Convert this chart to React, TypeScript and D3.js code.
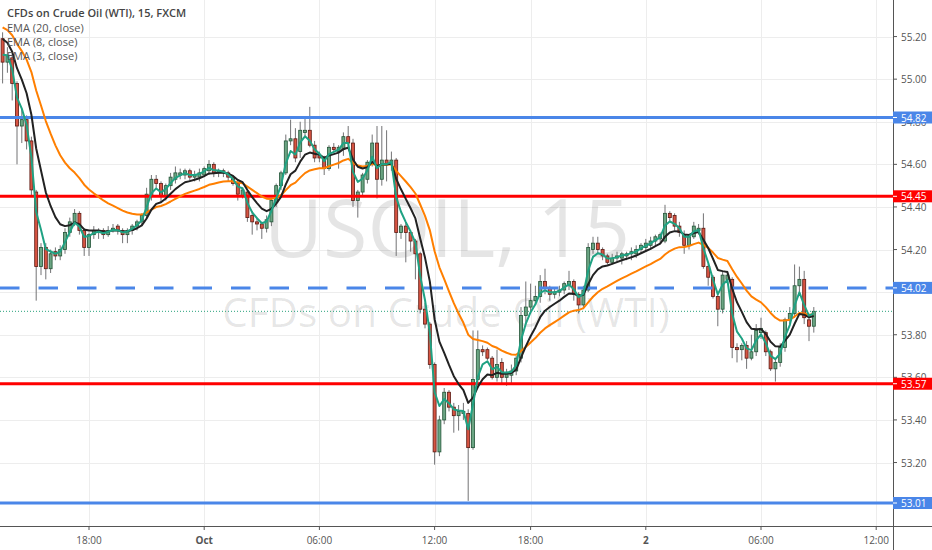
import { scaleLinear, line } from "d3";

// 15-minute bars, [open, high, low, close]
const sep30Bars: number[][] = [
  [55.19, 55.22, 54.98, 55.08], [55.08, 55.15, 55.03, 55.11], [55.10, 55.12, 54.90, 54.98],
  [54.98, 54.99, 54.60, 54.78], [54.78, 54.86, 54.70, 54.81], [54.81, 54.83, 54.67, 54.71],
  [54.71, 54.73, 54.45, 54.48], [54.47, 54.48, 53.96, 54.12], [54.12, 54.23, 54.08, 54.21],
  [54.21, 54.23, 54.06, 54.11], [54.11, 54.20, 54.09, 54.18], [54.19, 54.21, 54.15, 54.17],
  [54.17, 54.22, 54.15, 54.20], [54.20, 54.30, 54.18, 54.28], [54.28, 54.35, 54.26, 54.33],
  [54.33, 54.39, 54.31, 54.37], [54.37, 54.38, 54.27, 54.29], [54.29, 54.30, 54.17, 54.21],
  [54.21, 54.28, 54.17, 54.27], [54.27, 54.31, 54.25, 54.29], [54.28, 54.30, 54.25, 54.29],
  [54.29, 54.30, 54.25, 54.27], [54.27, 54.31, 54.26, 54.29], [54.29, 54.32, 54.28, 54.30],
  [54.31, 54.32, 54.27, 54.29], [54.29, 54.30, 54.23, 54.27], [54.27, 54.30, 54.23, 54.29],
  [54.29, 54.32, 54.27, 54.31], [54.31, 54.34, 54.29, 54.33], [54.33, 54.37, 54.31, 54.36],
  [54.36, 54.49, 54.34, 54.46], [54.45, 54.55, 54.43, 54.53], [54.53, 54.55, 54.49, 54.51],
  [54.51, 54.52, 54.42, 54.45], [54.45, 54.51, 54.43, 54.50], [54.50, 54.56, 54.48, 54.54],
  [54.53, 54.59, 54.51, 54.56], [54.55, 54.58, 54.53, 54.56], [54.55, 54.58, 54.53, 54.57],
  [54.57, 54.58, 54.52, 54.54], [54.54, 54.57, 54.52, 54.55], [54.54, 54.58, 54.52, 54.56],
];

const oct1Bars: number[][] = [
  [54.55, 54.59, 54.54, 54.58], [54.57, 54.62, 54.55, 54.60], [54.60, 54.61, 54.54, 54.56],
  [54.56, 54.58, 54.54, 54.57], [54.57, 54.58, 54.54, 54.56], [54.56, 54.57, 54.52, 54.54],
  [54.54, 54.55, 54.50, 54.51], [54.51, 54.52, 54.43, 54.46], [54.45, 54.49, 54.44, 54.48],
  [54.47, 54.48, 54.33, 54.35], [54.36, 54.38, 54.27, 54.33], [54.33, 54.35, 54.29, 54.32],
  [54.32, 54.33, 54.25, 54.30], [54.30, 54.36, 54.28, 54.34], [54.33, 54.44, 54.31, 54.43],
  [54.42, 54.51, 54.40, 54.50], [54.50, 54.57, 54.48, 54.56], [54.56, 54.74, 54.55, 54.71],
  [54.71, 54.81, 54.69, 54.72], [54.72, 54.77, 54.61, 54.63], [54.66, 54.80, 54.63, 54.76],
  [54.75, 54.82, 54.73, 54.76], [54.76, 54.87, 54.68, 54.69], [54.69, 54.71, 54.61, 54.63],
  [54.64, 54.66, 54.61, 54.63], [54.63, 54.64, 54.55, 54.58], [54.58, 54.69, 54.57, 54.68],
  [54.68, 54.70, 54.65, 54.67], [54.66, 54.69, 54.58, 54.68], [54.67, 54.75, 54.64, 54.73],
  [54.73, 54.78, 54.68, 54.70], [54.70, 54.72, 54.40, 54.43], [54.43, 54.48, 54.35, 54.47],
  [54.47, 54.56, 54.45, 54.55], [54.53, 54.62, 54.51, 54.61], [54.61, 54.74, 54.59, 54.70],
  [54.70, 54.78, 54.44, 54.53], [54.53, 54.78, 54.50, 54.62], [54.62, 54.76, 54.52, 54.60],
  [54.60, 54.66, 54.57, 54.62], [54.62, 54.63, 54.17, 54.28], [54.28, 54.32, 54.25, 54.31],
  [54.31, 54.33, 54.14, 54.28], [54.28, 54.29, 54.19, 54.24], [54.24, 54.25, 54.06, 54.18],
  [54.18, 54.19, 53.90, 53.92], [53.92, 53.95, 53.83, 53.85], [53.85, 53.86, 53.64, 53.66],
  [53.66, 53.67, 53.19, 53.25], [53.25, 53.42, 53.23, 53.40], [53.40, 53.55, 53.38, 53.53],
  [53.53, 53.54, 53.44, 53.46], [53.46, 53.48, 53.34, 53.42], [53.42, 53.47, 53.35, 53.44],
  [53.43, 53.48, 53.40, 53.44], [53.43, 53.45, 53.02, 53.27], [53.27, 53.82, 53.26, 53.59],
  [53.59, 53.82, 53.55, 53.73], [53.73, 53.75, 53.70, 53.72], [53.73, 53.74, 53.68, 53.69],
  [53.69, 53.70, 53.59, 53.60], [53.60, 53.73, 53.58, 53.66], [53.67, 53.69, 53.57, 53.60],
  [53.60, 53.64, 53.56, 53.62], [53.61, 53.66, 53.57, 53.63], [53.63, 53.70, 53.61, 53.69],
  [53.69, 53.93, 53.67, 53.89], [53.89, 54.05, 53.85, 53.93], [53.93, 54.04, 53.90, 53.96],
  [53.96, 54.03, 53.94, 53.98], [53.98, 54.08, 53.95, 54.05], [54.05, 54.11, 53.99, 54.02],
  [54.02, 54.03, 53.96, 53.99], [53.99, 54.02, 53.97, 54.00], [54.00, 54.03, 53.98, 54.01],
  [54.01, 54.05, 53.99, 54.04], [54.03, 54.10, 54.01, 54.05], [54.05, 54.06, 53.96, 53.99],
  [53.99, 54.00, 53.90, 53.94], [53.94, 54.03, 53.92, 54.01], [54.01, 54.23, 54.00, 54.21],
  [54.20, 54.26, 54.18, 54.23], [54.23, 54.26, 54.18, 54.20], [54.20, 54.21, 54.15, 54.17],
  [54.17, 54.18, 54.13, 54.14], [54.14, 54.18, 54.13, 54.16], [54.16, 54.19, 54.14, 54.17],
  [54.16, 54.19, 54.13, 54.18], [54.17, 54.19, 54.15, 54.18], [54.18, 54.21, 54.15, 54.19],
  [54.18, 54.22, 54.16, 54.20], [54.20, 54.23, 54.18, 54.22],
];

const oct2Bars: number[][] = [
  [54.21, 54.25, 54.19, 54.23], [54.22, 54.26, 54.20, 54.24], [54.24, 54.27, 54.22, 54.26],
  [54.25, 54.28, 54.23, 54.27], [54.24, 54.41, 54.23, 54.37], [54.37, 54.38, 54.33, 54.35],
  [54.36, 54.37, 54.29, 54.31], [54.31, 54.33, 54.26, 54.28], [54.27, 54.29, 54.18, 54.22],
  [54.22, 54.27, 54.20, 54.26], [54.26, 54.33, 54.25, 54.31], [54.29, 54.32, 54.27, 54.30],
  [54.30, 54.37, 54.11, 54.12], [54.12, 54.13, 54.03, 54.07], [54.07, 54.08, 53.97, 53.98],
  [53.98, 54.00, 53.84, 53.92], [53.92, 54.10, 53.90, 54.08], [54.06, 54.10, 54.04, 54.08],
  [54.06, 54.07, 53.69, 53.74], [53.74, 53.76, 53.67, 53.73], [53.73, 53.76, 53.68, 53.75],
  [53.75, 53.77, 53.64, 53.69], [53.69, 53.80, 53.68, 53.72], [53.72, 53.85, 53.70, 53.82],
  [53.81, 53.88, 53.78, 53.83], [53.81, 53.82, 53.70, 53.72], [53.72, 53.73, 53.63, 53.64],
  [53.64, 53.69, 53.58, 53.67], [53.67, 53.76, 53.65, 53.74], [53.74, 53.88, 53.72, 53.87],
  [53.87, 53.93, 53.85, 53.90], [53.90, 54.13, 53.88, 54.03], [54.03, 54.12, 54.00, 54.06],
  [54.06, 54.10, 53.85, 53.88], [53.87, 53.89, 53.77, 53.84], [53.84, 53.93, 53.81, 53.91],
];

const timeTickIndex = [18, 42, 66, 90, 110, 134, 158, 182];
const timeTickLabels = ["18:00", "Oct", "06:00", "12:00", "18:00", "2", "06:00", "12:00"];
const dayLabels = ["Oct", "2"];

const priceTicks = [53.2, 53.4, 53.6, 53.8, 54.0, 54.2, 54.4, 54.6, 54.8, 55.0, 55.2];
// tick labels the axis hides behind a level label
const hiddenTickLabels = [54.0];

const levelPrices = [54.82, 54.45, 54.02, 53.57, 53.01];
const levelColors = ["#4a86e8", "#ff0000", "#4a86e8", "#ff0000", "#4a86e8"];
const levelDashed = [false, false, true, false, false];

const lastPrice = 53.91;

const emaNames = ["EMA (20, close)", "EMA (8, close)", "EMA (3, close)"];
const emaPeriods = [20, 8, 3];
const emaSeeds = [55.26, 55.22, 55.15];
const emaColors = ["#ff7f00", "#222222", "#1fa283"];

const W = 932;
const H = 550;
const plotRight = 893;
const plotBottom = 526;
const font = "'Open Sans', sans-serif";

function ema(values: number[], period: number, seed: number) {
  const k = 2 / (period + 1);
  let prev = seed;
  return values.map((v) => (prev = prev + k * (v - prev)));
}

export default function App() {
  const bars = [...sep30Bars, ...oct1Bars, ...oct2Bars];
  const closes = bars.map((b) => b[3]);

  const x = scaleLinear().domain([0, 182]).range([2.6, 876.2]);
  const y = scaleLinear().domain([53.01, 54.82]).range([503, 117.5]);

  const emaLines = emaPeriods.map((p, k) => {
    const vals = ema(closes, p, emaSeeds[k]);
    return line<number>()
      .x((_, i) => x(i))
      .y((v) => y(v))(vals);
  });

  const upFill = "#6ba583";
  const downFill = "#d75442";
  const upBorder = "#225437";
  const downBorder = "#5b1a13";
  const wick = "#737375";
  const axisText = "#555";

  return (
    <svg
      width={W}
      height={H}
      style={{ position: "absolute", left: 0, top: 0, background: "#fff" }}
      fontFamily={font}
    >
      <defs>
        <clipPath id="plot">
          <rect x={0} y={0} width={plotRight} height={plotBottom} />
        </clipPath>
      </defs>

      {/* grid */}
      <g stroke="#ededed" strokeWidth={1}>
        {priceTicks.map((p) => (
          <line key={p} x1={0} x2={plotRight} y1={Math.round(y(p)) + 0.5} y2={Math.round(y(p)) + 0.5} />
        ))}
        {timeTickIndex.map((t) => (
          <line key={t} x1={Math.round(x(t)) + 0.5} x2={Math.round(x(t)) + 0.5} y1={0} y2={plotBottom} />
        ))}
      </g>

      {/* watermark */}
      <g fill="rgba(0,0,0,0.1)" textAnchor="middle">
        <text x={447} y={257} fontSize={81}>USOIL, 15</text>
        <text x={446} y={327} fontSize={40.5}>CFDs on Crude Oil (WTI)</text>
      </g>

      <g clipPath="url(#plot)">
        {/* candles */}
        {bars.map(([o, h, l, c], i) => {
          const up = c >= o;
          const top = y(Math.max(o, c));
          const bh = Math.max(y(Math.min(o, c)) - top, 1);
          return (
            <g key={i}>
              <line x1={x(i)} x2={x(i)} y1={y(h)} y2={y(l)} stroke={wick} strokeWidth={1} />
              <rect
                x={x(i) - 1.5}
                y={top}
                width={3}
                height={bh}
                fill={up ? upFill : downFill}
                stroke={up ? upBorder : downBorder}
                strokeWidth={0.8}
              />
            </g>
          );
        })}

        {/* last price */}
        <line
          x1={0}
          x2={plotRight}
          y1={y(lastPrice)}
          y2={y(lastPrice)}
          stroke="#26a17b"
          strokeWidth={1}
          strokeDasharray="1 2"
        />

        {/* horizontal levels */}
        {levelPrices.map((p, k) => (
          <line
            key={p}
            x1={0}
            x2={plotRight}
            y1={y(p)}
            y2={y(p)}
            stroke={levelColors[k]}
            strokeWidth={3}
            strokeDasharray={levelDashed[k] ? "19.5 19" : undefined}
          />
        ))}

        {/* EMAs */}
        {emaLines.map((d, k) => (
          <path key={k} d={d ?? ""} fill="none" stroke={emaColors[k]} strokeWidth={2} strokeLinejoin="round" />
        ))}
      </g>

      {/* axes */}
      <line x1={0} x2={W} y1={plotBottom + 0.5} y2={plotBottom + 0.5} stroke="#555" strokeWidth={1} />
      <line x1={plotRight + 0.5} x2={plotRight + 0.5} y1={0} y2={H} stroke="#555" strokeWidth={1} />

      {priceTicks.map((p) => (
        <g key={p}>
          <line x1={plotRight} x2={plotRight + 4} y1={y(p)} y2={y(p)} stroke="#555" />
          {!hiddenTickLabels.includes(p) && (
            <text x={901} y={y(p)} dominantBaseline="central" fontSize={10} fill={axisText}>
              {p.toFixed(2)}
            </text>
          )}
        </g>
      ))}

      {timeTickIndex.map((t, k) => (
        <g key={t}>
          <line x1={x(t)} x2={x(t)} y1={plotBottom} y2={plotBottom + 4} stroke="#555" />
          <text
            x={x(t)}
            y={540}
            textAnchor="middle"
            dominantBaseline="central"
            fontSize={10}
            fontWeight={dayLabels.includes(timeTickLabels[k]) ? 700 : 400}
            fill={axisText}
          >
            {timeTickLabels[k]}
          </text>
        </g>
      ))}

      {/* level labels on the price axis */}
      {levelPrices.map((p, k) => (
        <g key={p}>
          <rect x={plotRight} y={y(p) - 6} width={W - plotRight} height={12} fill={levelColors[k]} />
          <line x1={plotRight} x2={plotRight + 4} y1={y(p)} y2={y(p)} stroke="#fff" />
          <text x={901} y={y(p)} dominantBaseline="central" fontSize={10} fill="#fff">
            {p.toFixed(2)}
          </text>
        </g>
      ))}

      {/* legend */}
      <text x={7} y={17} fontSize={11} fontWeight={600} fill="#444">
        CFDs on Crude Oil (WTI), 15, FXCM
      </text>
      {emaNames.map((n, k) => (
        <text key={n} x={7} y={31.5 + k * 14.2} fontSize={11} fill="#555">
          {n}
        </text>
      ))}
    </svg>
  );
}
